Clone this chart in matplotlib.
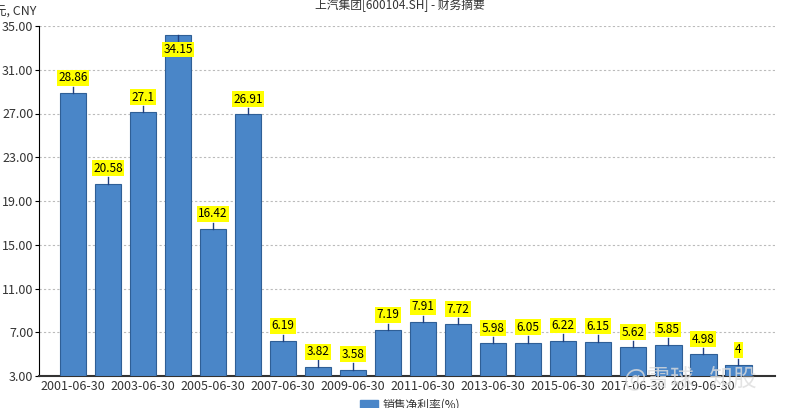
import matplotlib.pyplot as plt
import numpy as np
from matplotlib.patches import Rectangle

plt.rcParams['font.family'] = ['Noto Sans CJK SC', 'DejaVu Sans']

years = ['2001-06-30', '2002-06-30', '2003-06-30', '2004-06-30', '2005-06-30',
         '2006-06-30', '2007-06-30', '2008-06-30', '2009-06-30', '2010-06-30',
         '2011-06-30', '2012-06-30', '2013-06-30', '2014-06-30', '2015-06-30',
         '2016-06-30', '2017-06-30', '2018-06-30', '2019-06-30', '2020-06-30']
margin = [28.86, 20.58, 27.1, 34.15, 16.42, 26.91, 6.19, 3.82, 3.58, 7.19,
          7.91, 7.72, 5.98, 6.05, 6.22, 6.15, 5.62, 5.85, 4.98, 4]
labels = ['28.86', '20.58', '27.1', '34.15', '16.42', '26.91', '6.19', '3.82', '3.58', '7.19',
          '7.91', '7.72', '5.98', '6.05', '6.22', '6.15', '5.62', '5.85', '4.98', '4']
y_ticks = [3, 7, 11, 15, 19, 23, 27, 31, 35]

bar_color = '#4a86c8'
edge_color = '#2f5f96'

fig = plt.figure(figsize=(8, 4.08), dpi=100)
ax = fig.add_axes([39 / 800, 1 - 376 / 408, (775 - 39) / 800, (376 - 26) / 408])

x = np.arange(len(margin))
ax.bar(x, np.array(margin) - 3, bottom=3, width=0.76, color=bar_color,
       edgecolor=edge_color, linewidth=0.8, zorder=3)

ax.set_xlim(-0.97, 20.05)
ax.set_ylim(3, 35)
ax.set_yticks(y_ticks)
ax.set_yticklabels(['%.2f' % v for v in y_ticks])
ax.set_xticks(x[::2])
ax.set_xticklabels(years[::2])
ax.tick_params(axis='y', labelsize=9, labelcolor='#333333', color='black', length=3, pad=1)
ax.tick_params(axis='x', labelsize=9, labelcolor='#333333', length=0, pad=3)

ax.grid(axis='y', linestyle=(0, (2, 2)), color='#bbbbbb', linewidth=0.8, zorder=0)
ax.spines['top'].set_visible(False)
ax.spines['right'].set_visible(False)
ax.spines['left'].set_color('black')
ax.spines['bottom'].set_color('#333333')
ax.spines['bottom'].set_linewidth(1.5)

# value labels with a short leader line
for xi, v, t in zip(x, margin, labels):
    if v + 2.2 > 35:
        ax.plot([xi, xi], [v, v - 0.6], color='#1f3f80', lw=1, zorder=4)
        ax.text(xi, v - 1.3, t, ha='center', va='center', fontsize=8.5, zorder=5,
                bbox=dict(boxstyle='square,pad=0.12', fc='#ffff00', ec='none'))
    else:
        ax.plot([xi, xi], [v, v + 0.6], color='#1f3f80', lw=1, zorder=4)
        ax.text(xi, v + 1.4, t, ha='center', va='center', fontsize=8.5, zorder=5,
                bbox=dict(boxstyle='square,pad=0.12', fc='#ffff00', ec='none'))

fig.text(0.5, 1 - 5 / 408, '上汽集团[600104.SH] - 财务摘要', ha='center', va='center',
         fontsize=8.5, color='#333333')
fig.text(36 / 800, 1 - 12 / 408, '元, CNY', ha='right', va='center', fontsize=9, color='#333333')

# legend at bottom
fig.patches.append(Rectangle((360 / 800, 1 - 410 / 408), 18 / 800, 10 / 408,
                             transform=fig.transFigure, color=bar_color))
fig.text(383 / 800, 1 - 405 / 408, '销售净利率(%)', ha='left', va='center', fontsize=8.5, color='#333333')

# watermark
fig.text(690 / 800, 1 - 378 / 408, '@雪球   知股', ha='center', va='center', fontsize=17,
         color='#dddddd', alpha=0.8, zorder=10)

fig.savefig('out.png', dpi=100)
